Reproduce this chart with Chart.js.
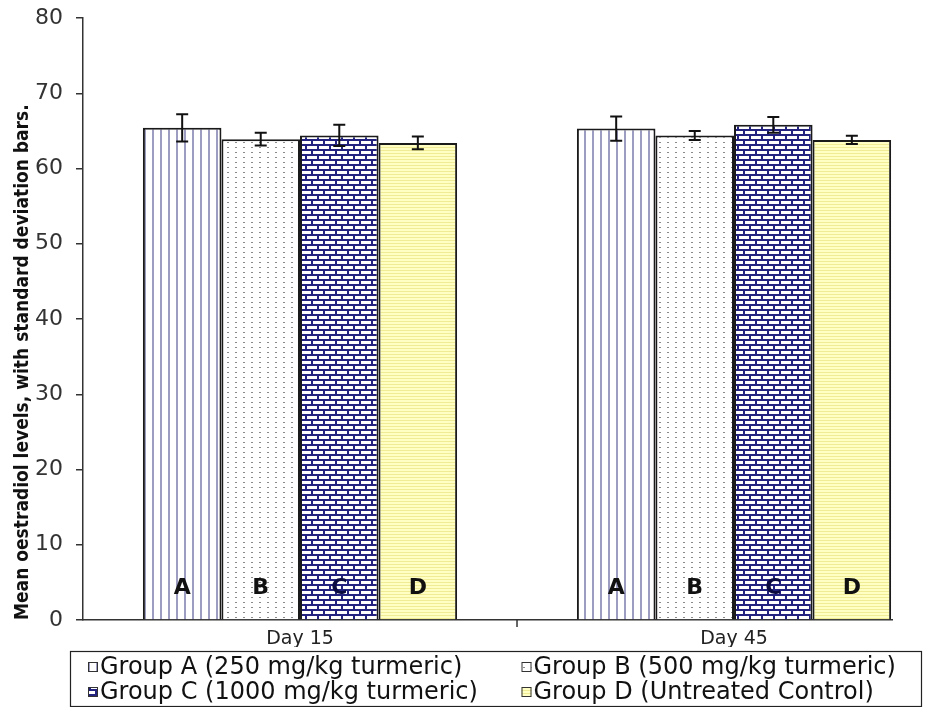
<!DOCTYPE html>
<html>
<head>
<meta charset="utf-8">
<script src="https://cdn.jsdelivr.net/npm/chart.js@4"></script>
<style>
  html, body { margin: 0; padding: 0; background: #fff; overflow: hidden; }
  canvas { display: block; }
</style>
</head>
<body>
<canvas id="chart" width="941" height="707"></canvas>
<script>
// dane
const categories = ['Day 15', 'Day 45'];
const groupLabels = [
  'Group A (250 mg/kg turmeric)',
  'Group B (500 mg/kg turmeric)',
  'Group C (1000 mg/kg turmeric)',
  'Group D (Untreated Control)'
];
const barLetters = ['A', 'B', 'C', 'D'];
const groupA = [65.4, 65.3];
const groupB = [63.9, 64.4];
const groupC = [64.4, 65.8];
const groupD = [63.4, 63.8];
const sdA = [1.8, 1.6];
const sdB = [0.85, 0.6];
const sdC = [1.4, 1.05];
const sdD = [0.85, 0.55];
const letterLevel = 4.2;
const yTicks = [0, 10, 20, 30, 40, 50, 60, 70, 80];

const FONT = '"DejaVu Sans", Arial, sans-serif';

function makePattern(w, h, draw) {
  const c = document.createElement('canvas');
  c.width = w; c.height = h;
  const g = c.getContext('2d');
  draw(g);
  return g.createPattern(c, 'repeat');
}

const patA = makePattern(8, 4, g => {
  g.fillStyle = '#fff'; g.fillRect(0, 0, 8, 4);
  g.fillStyle = '#9d9dc2'; g.fillRect(0, 0, 2, 4);
});
const patB = makePattern(8, 5, g => {
  g.fillStyle = '#fff'; g.fillRect(0, 0, 8, 5);
  g.fillStyle = '#8a8a8a'; g.fillRect(3, 2, 2, 1);
});
const patC = makePattern(12, 10, g => {
  g.fillStyle = '#23237f'; g.fillRect(0, 0, 12, 10);
  g.fillStyle = '#fff';
  g.fillRect(1, 1, 10, 3);
  g.fillRect(7, 6, 10, 3);
  g.fillRect(-5, 6, 10, 3);
});
const patD = makePattern(4, 3, g => {
  g.fillStyle = '#ffffc4'; g.fillRect(0, 0, 4, 3);
  g.fillStyle = '#f0ec96'; g.fillRect(0, 0, 4, 1);
});

const means = [groupA, groupB, groupC, groupD];
const sds = [sdA, sdB, sdC, sdD];
const patterns = [patA, patB, patC, patD];

// słupki błędów + litery w słupkach + znacznik między kategoriami
const extrasPlugin = {
  id: 'extras',
  afterDatasetsDraw(chart) {
    const ctx = chart.ctx;
    const y = chart.scales.y;
    const x = chart.scales.x;
    ctx.save();
    chart.data.datasets.forEach((ds, i) => {
      const meta = chart.getDatasetMeta(i);
      meta.data.forEach((bar, j) => {
        const m = means[i][j], s = sds[i][j];
        const yHi = y.getPixelForValue(m + s);
        const yLo = y.getPixelForValue(m - s);
        ctx.strokeStyle = '#111';
        ctx.lineWidth = 2;
        ctx.beginPath();
        ctx.moveTo(bar.x, yHi); ctx.lineTo(bar.x, yLo);
        ctx.moveTo(bar.x - 6, yHi); ctx.lineTo(bar.x + 6, yHi);
        ctx.moveTo(bar.x - 6, yLo); ctx.lineTo(bar.x + 6, yLo);
        ctx.stroke();

        ctx.fillStyle = i === 2 ? '#0b0b40' : '#111';
        ctx.font = 'bold 22px ' + FONT;
        ctx.textAlign = 'center';
        ctx.textBaseline = 'middle';
        ctx.fillText(barLetters[i], bar.x, y.getPixelForValue(letterLevel));
      });
    });
    // znacznik podziału kategorii
    const mid = x.getPixelForValue(0.5);
    ctx.strokeStyle = '#333';
    ctx.lineWidth = 1.5;
    ctx.beginPath();
    ctx.moveTo(mid, x.top); ctx.lineTo(mid, x.top + 7);
    ctx.stroke();
    ctx.restore();
  },
  afterDraw(chart) {
    // legenda w ramce, 2 kolumny
    const ctx = chart.ctx;
    const area = chart.chartArea;
    const left = area.left - 13;
    const right = chart.width - 20;
    const top = area.bottom + 31;
    const bottom = chart.height - 1;
    ctx.save();
    ctx.strokeStyle = '#222';
    ctx.lineWidth = 1.2;
    ctx.strokeRect(left + 0.5, top + 0.5, right - left, bottom - top);
    const colW = (right - left) / 2;
    ctx.font = '24px ' + FONT;
    ctx.textAlign = 'left';
    ctx.textBaseline = 'middle';
    chart.data.datasets.forEach((ds, i) => {
      const col = i % 2, row = Math.floor(i / 2);
      const bx = left + 18 + col * (colW + 8);
      const by = top + 16 + row * 25;
      ctx.fillStyle = patterns[i];
      ctx.fillRect(bx, by - 5, 10, 10);
      ctx.strokeStyle = '#333';
      ctx.lineWidth = 1;
      ctx.strokeRect(bx + 0.5, by - 4.5, 9, 9);
      ctx.fillStyle = '#111';
      ctx.fillText(ds.label, bx + 12, by + 1);
    });
    ctx.restore();
  }
};

new Chart(document.getElementById('chart'), {
  type: 'bar',
  data: {
    datasets: means.map((vals, i) => ({
      label: groupLabels[i],
      data: vals.map((v, j) => ({ x: j, y: v })),
      backgroundColor: patterns[i],
      borderColor: '#1a1a1a',
      borderWidth: 2,
      borderSkipped: 'bottom'
    }))
  },
  options: {
    responsive: false,
    devicePixelRatio: 1,
    animation: false,
    categoryPercentage: 0.724,
    barPercentage: 1.0,
    layout: { padding: { left: 6, right: 49, top: 18, bottom: 60 } },
    plugins: {
      legend: { display: false },
      tooltip: { enabled: false }
    },
    scales: {
      x: {
        type: 'linear',
        offset: false,
        min: -0.5,
        max: 1.364,
        afterBuildTicks: (scale) => {
          scale.ticks = categories.map((c, i) => ({ value: i }));
        },
        afterFit: (scale) => { scale.height = 27; },
        grid: { display: false, drawTicks: false },
        border: { display: true, color: '#333', width: 1.5 },
        ticks: {
          padding: 8,
          color: '#222',
          font: { family: FONT, size: 19 },
          callback: (v) => categories[v]
        }
      },
      y: {
        min: 0,
        max: 80,
        afterBuildTicks: (scale) => {
          scale.ticks = yTicks.map(v => ({ value: v }));
        },
        afterFit: (scale) => {
          scale.width = 77;
          scale.paddingTop = 0;
          scale.paddingBottom = 0;
        },
        grid: { drawOnChartArea: false, color: '#333', lineWidth: 1.5, tickLength: 7 },
        border: { display: true, color: '#333', width: 1.5 },
        ticks: {
          padding: 13,
          color: '#333',
          font: { family: FONT, size: 22 }
        },
        title: {
          display: true,
          align: 'start',
          text: 'Mean oestradiol levels, with standard deviation bars.',
          color: '#111',
          padding: { top: 6, bottom: 0 },
          font: { family: '"Liberation Sans Narrow", "DejaVu Sans Condensed", Arial, sans-serif', size: 19, weight: 'bold' }
        }
      }
    }
  },
  plugins: [extrasPlugin]
});
</script>
</body>
</html>
